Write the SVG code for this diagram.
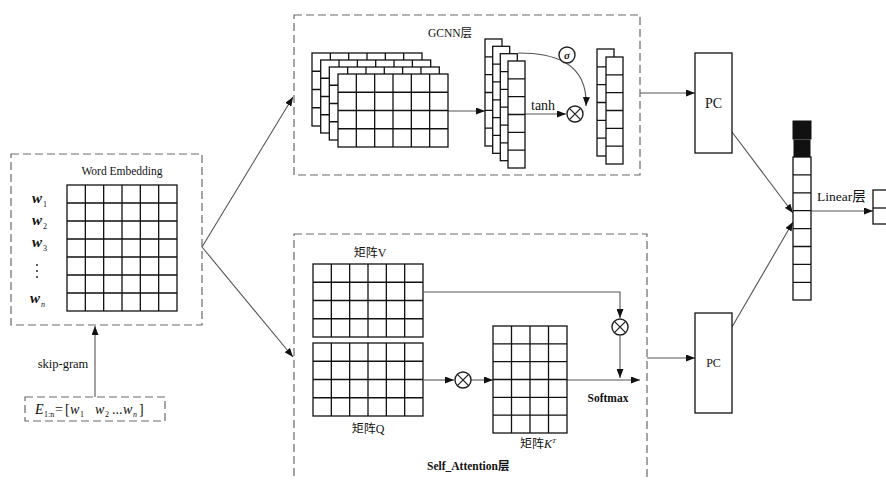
<svg xmlns="http://www.w3.org/2000/svg" width="886" height="480" viewBox="0 0 886 480">
<style>
.t{font-family:"Liberation Serif","Noto Sans CJK SC",serif;fill:#111}
.b{font-weight:bold}
.i{font-style:italic}
.dash{fill:none;stroke:#6a6a6a;stroke-width:1.2;stroke-dasharray:8,4}
.box{fill:#fff;stroke:#111;stroke-width:1.3}
.gl{fill:none;stroke:#111;stroke-width:1.3}
.con{fill:none;stroke:#555;stroke-width:1.1}
.ox{fill:#fff;stroke:#222;stroke-width:1.4}
</style>
<defs>
<marker id="ah" markerUnits="userSpaceOnUse" markerWidth="9" markerHeight="7" refX="9" refY="3.5" orient="auto">
<path d="M0,0 L9,3.5 L0,7 z" fill="#111"/>
</marker>
<g id="g64">
<rect class="box" x="0" y="0" width="110" height="73"/>
<path class="gl" d="M18.33,0V73M36.67,0V73M55,0V73M73.33,0V73M91.67,0V73M0,18.25H110M0,36.5H110M0,54.75H110"/>
</g>
<g id="col6">
<rect class="box" x="0" y="0" width="17" height="107"/>
<path class="gl" d="M0,17.83H17M0,35.67H17M0,53.5H17M0,71.33H17M0,89.17H17"/>
</g>
<g id="otimes">
<circle class="ox" cx="0" cy="0" r="8"/>
<path d="M-5.6,-5.6L5.6,5.6M-5.6,5.6L5.6,-5.6" stroke="#222" stroke-width="1.3"/>
</g>
</defs>

<g id="connectors">
<path class="con" d="M95,397 L95,326" marker-end="url(#ah)"/>
<path class="con" d="M202,247 L293,97" marker-end="url(#ah)"/>
<path class="con" d="M202,247 L293,357" marker-end="url(#ah)"/>
<path class="con" d="M448,111 L485,111" marker-end="url(#ah)"/>
<path class="con" d="M525,114 L566,114" marker-end="url(#ah)"/>
<path class="con" d="M518,53 C550,53 588,60 586,106" marker-end="url(#ah)"/>
<path class="con" d="M640,93 L695,93" marker-end="url(#ah)"/>
<path class="con" d="M732,132 L793,213" marker-end="url(#ah)"/>
<path class="con" d="M732,327 L793,222" marker-end="url(#ah)"/>
<path class="con" d="M811,211 L873,211" marker-end="url(#ah)"/>
<path class="con" d="M424,292 L620,292 L620,318" marker-end="url(#ah)"/>
<path class="con" d="M620,336 L620,378" marker-end="url(#ah)"/>
<path class="con" d="M424,380 L454,380" marker-end="url(#ah)"/>
<path class="con" d="M471,380 L493,380" marker-end="url(#ah)"/>
<path class="con" d="M567,380 L640,380" marker-end="url(#ah)"/>
<path class="con" d="M647,358 L695,358" marker-end="url(#ah)"/>
</g>

<g id="word-embedding">
<rect class="dash" x="11" y="154" width="191" height="171"/>
<text class="t" x="122" y="175" font-size="11.5" text-anchor="middle">Word Embedding</text>
<rect class="box" x="67" y="185" width="110" height="126"/>
<path class="gl" d="M85.33,185V311M103.67,185V311M122,185V311M140.33,185V311M158.67,185V311M67,203H177M67,221H177M67,239H177M67,257H177M67,275H177M67,293H177"/>
<text class="t i b" x="32" y="203" font-size="15">w</text><text class="t" x="43" y="207" font-size="8">1</text>
<text class="t i b" x="32" y="225" font-size="15">w</text><text class="t" x="43" y="229" font-size="8">2</text>
<text class="t i b" x="32" y="247" font-size="15">w</text><text class="t" x="43" y="251" font-size="8">3</text>
<circle cx="37" cy="265" r="0.9" fill="#111"/><circle cx="37" cy="271" r="0.9" fill="#111"/><circle cx="37" cy="277" r="0.9" fill="#111"/>
<text class="t i b" x="30" y="303" font-size="15">w</text><text class="t i" x="41" y="307" font-size="8">n</text>
</g>

<g id="input">
<rect class="dash" x="25" y="397" width="140" height="24"/>
<text class="t" x="63" y="368" font-size="12.5" text-anchor="middle">skip-gram</text>
<text class="t i" x="35" y="414" font-size="14">E</text>
<text class="t" x="44" y="417" font-size="8">1:n</text>
<text class="t" x="55" y="414" font-size="14">=</text>
<text class="t" x="65" y="414" font-size="14">[</text>
<text class="t i" x="70" y="414" font-size="14">w</text><text class="t" x="80" y="417" font-size="8">1</text>
<text class="t i" x="95" y="414" font-size="14">w</text><text class="t" x="105" y="417" font-size="8">2</text>
<text class="t" x="112" y="414" font-size="14">...</text>
<text class="t i" x="123" y="414" font-size="14">w</text><text class="t i" x="133" y="417" font-size="8">n</text>
<text class="t" x="139" y="414" font-size="14">]</text>
</g>

<g id="gcnn">
<rect class="dash" x="294" y="15" width="346" height="160"/>
<text class="t" x="428" y="37" font-size="11.5">GCNN层</text>
<use href="#g64" x="312" y="53"/>
<use href="#g64" x="320.7" y="60"/>
<use href="#g64" x="329.3" y="67"/>
<use href="#g64" x="338" y="74"/>
<use href="#col6" x="485" y="39"/>
<use href="#col6" x="492.7" y="46.3"/>
<use href="#col6" x="500.3" y="53.7"/>
<use href="#col6" x="508" y="61"/>
<text class="t" x="531" y="110" font-size="14">tanh</text>
<circle class="ox" cx="567" cy="55" r="8"/>
<text class="t i b" x="567" y="59" font-size="11" text-anchor="middle">σ</text>
<use href="#otimes" x="575" y="114"/>
<use href="#col6" x="597" y="49"/>
<use href="#col6" x="606" y="57"/>
</g>

<g id="self-attention">
<rect class="dash" x="294" y="234" width="353" height="260"/>
<text class="t" x="370" y="257" font-size="12" text-anchor="middle">矩阵V</text>
<use href="#g64" x="313" y="264"/>
<use href="#g64" x="313" y="343"/>
<text class="t" x="368" y="433" font-size="12" text-anchor="middle">矩阵Q</text>
<use href="#otimes" x="463" y="380"/>
<rect class="box" x="493" y="326" width="74" height="107"/>
<path class="gl" d="M511.5,326V433M530,326V433M548.5,326V433M493,343.83H567M493,361.67H567M493,379.5H567M493,397.33H567M493,415.17H567"/>
<text class="t" x="520" y="448" font-size="12">矩阵<tspan class="i">K</tspan><tspan class="i" font-size="7" dy="-5">T</tspan></text>
<use href="#otimes" x="620" y="327"/>
<text class="t b" x="608" y="402" font-size="11.5" text-anchor="middle">Softmax</text>
<text class="t b" x="427" y="470" font-size="11.5">Self_Attention层</text>
</g>

<g id="pc1">
<rect class="box" x="695" y="53" width="37" height="100"/>
<text class="t" x="713.5" y="108" font-size="14" text-anchor="middle">PC</text>
</g>
<g id="pc2">
<rect class="box" x="695" y="313" width="37" height="100"/>
<text class="t" x="713.5" y="367" font-size="12" text-anchor="middle">PC</text>
</g>

<g id="vector">
<rect x="793" y="121" width="18" height="18" fill="#111" stroke="#111"/>
<rect x="794" y="140" width="16" height="17" fill="#111" stroke="#111"/>
<rect class="box" x="793" y="157" width="18" height="143"/>
<path class="gl" d="M793,174.9H811M793,192.8H811M793,210.7H811M793,228.6H811M793,246.5H811M793,264.4H811M793,282.3H811"/>
<text class="t" x="817" y="201" font-size="13.5">Linear层</text>
</g>

<g id="output">
<rect class="box" x="873" y="190" width="20" height="34"/>
<path class="gl" d="M873,208H893"/>
</g>
</svg>
